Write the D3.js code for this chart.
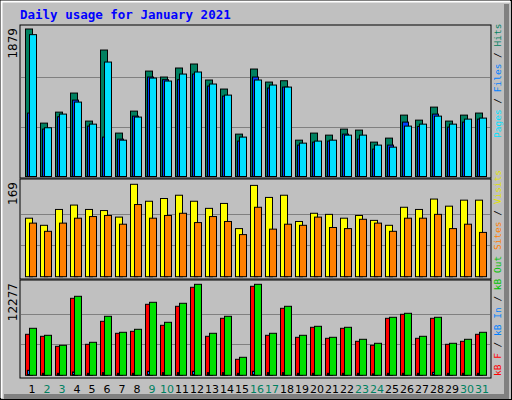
<!DOCTYPE html>
<html><head><meta charset="utf-8">
<script src="https://cdn.jsdelivr.net/npm/d3@7"></script>
<style>body{margin:0;background:#fff}svg{display:block}</style>
</head><body>
<script>
// daily values
var days = d3.range(1, 32);
var weekend = [2, 3, 9, 10, 16, 17, 23, 24, 30, 31];
var hits  = [1879,680,820,1063,706,1611,553,833,1343,1267,1382,1433,1229,1114,540,1369,1203,1220,463,553,527,604,591,438,489,782,718,884,706,782,808];
var files = [808,604,761,973,642,502,476,769,1267,1233,1233,1305,1152,1024,451,1267,1127,1139,400,438,451,540,476,349,400,693,638,795,629,693,731];
var pages = [1807,621,795,948,667,1458,463,757,1254,1216,1305,1331,1178,1037,502,1229,1165,1139,425,451,463,527,527,400,374,642,667,769,667,731,744];
var visits = [107,94,123,131,123,121,109,169,138,143,149,138,125,134,88,167,145,149,101,116,114,107,112,103,94,127,123,142,129,140,140];
var sites  = [98,83,98,107,110,112,96,132,107,112,116,99,110,101,77,127,87,96,94,109,90,88,105,98,83,107,107,114,88,96,81];
var kbF   = [5531,5261,3912,10388,4182,7285,5666,5936,9579,6746,9309,11872,5261,7690,2159,12007,5396,9039,5127,6476,4992,6341,4587,4047,7690,8230,4992,7690,4182,4587,5531];
var kbIn  = [675,270,270,450,270,360,270,270,540,360,360,540,360,360,270,540,360,360,270,270,270,270,270,200,270,270,270,405,270,270,270];
var kbOut = [6341,5396,4047,10658,4452,7960,5801,6206,9848,7150,9714,12277,5666,7960,2428,12277,5666,9309,5396,6611,5127,6476,4857,4317,7825,8364,5261,7825,4317,4857,5801];

var W = 512, H = 400;
var svg = d3.select("body").append("svg").attr("width", W).attr("height", H);

// frame with 3d edges
svg.append("rect").attr("x", 0.5).attr("y", 0.5).attr("width", W - 1).attr("height", H - 1)
    .attr("fill", "#c0c0c0").attr("stroke", "#000");
svg.append("path").attr("d", "M1.5,398V1.5H510").attr("fill", "none").attr("stroke", "#fff").attr("stroke-width", 2);
svg.append("path").attr("d", "M506.5,4V396.5H4").attr("fill", "none").attr("stroke", "#808080").attr("stroke-width", 5);

svg.append("text").attr("x", 20).attr("y", 19).text("Daily usage for January 2021")
    .attr("font-family", "DejaVu Sans Mono").attr("font-weight", "bold").attr("font-size", 12.5).attr("fill", "#0000ff");

var x = d3.scaleBand().domain(days).range([20, 485]);

function legend(yEnd, parts) {
    var t = svg.append("text").attr("transform", "translate(501," + yEnd + ") rotate(-90)")
        .attr("font-family", "DejaVu Sans Mono").attr("font-size", 9.5);
    parts.forEach(function (p) { t.append("tspan").attr("fill", p[1]).text(p[0]); });
}

function panel(top, bottom, base, peak, max, series, label) {
    svg.append("rect").attr("x", 20).attr("y", top).attr("width", 471).attr("height", bottom - top)
        .attr("fill", "#c0c0c0").attr("stroke", "#000");
    var y = d3.scaleLinear().domain([0, max]).range([base, peak]);
    var full = (base - peak) * 150 / 147.5;
    [1 / 3, 2 / 3].forEach(function (f) {
        svg.append("line").attr("x1", 21).attr("x2", 490)
            .attr("y1", Math.round(base - full * f) + 0.5).attr("y2", Math.round(base - full * f) + 0.5)
            .attr("stroke", "#808080");
    });
    series.forEach(function (s) {
        svg.append("g").selectAll("rect").data(s.data).enter().append("rect")
            .attr("x", function (d, i) { return x(days[i]) + s.off + 0.5; })
            .attr("y", function (d) { return y(d); })
            .attr("width", s.w)
            .attr("height", function (d) { return base - y(d); })
            .attr("fill", s.color).attr("stroke", "#000");
    });
    svg.append("text").attr("transform", "translate(17," + (top + 3) + ") rotate(-90)")
        .attr("text-anchor", "end").attr("font-family", "DejaVu Sans").attr("font-size", 12)
        .text(label);
}

panel(25, 178, 176.5, 29, 1879, [
    { data: hits, off: 5, w: 7, color: "#008060" },
    { data: files, off: 7, w: 6, color: "#0040ff" },
    { data: pages, off: 9, w: 7, color: "#00e0ff" }
], "1879");

panel(179, 279, 276.7, 184.3, 169, [
    { data: visits, off: 5, w: 7, color: "#ffff00" },
    { data: sites, off: 9, w: 7, color: "#ff8000" }
], "169");

panel(280, 378, 375.3, 284.3, 12277, [
    { data: kbF, off: 5, w: 7, color: "#ff0000" },
    { data: kbIn, off: 7, w: 2, color: "#0080ff" },
    { data: kbOut, off: 9, w: 7, color: "#00e000" }
], "12277");

legend(138, [["Pages", "#00e0ff"], [" / ", "#000"], ["Files", "#0080ff"], [" / ", "#000"], ["Hits", "#008060"]]);
legend(376, [["kB F", "#ff0000"], [" / ", "#000"], ["kB In", "#0080ff"], [" / ", "#000"], ["kB Out", "#00c000"],
    [" ", "#000"], ["Sites", "#ff8000"], [" / ", "#000"], ["Visits", "#e0e000"]]);

svg.append("g").selectAll("text").data(days).enter().append("text")
    .attr("x", function (d) { return x(d) + 12; }).attr("y", 393)
    .attr("text-anchor", "middle").attr("font-family", "DejaVu Sans").attr("font-size", 11)
    .attr("fill", function (d) { return weekend.indexOf(d) >= 0 ? "#008060" : "#000"; })
    .text(function (d) { return d; });
</script>
</body></html>
